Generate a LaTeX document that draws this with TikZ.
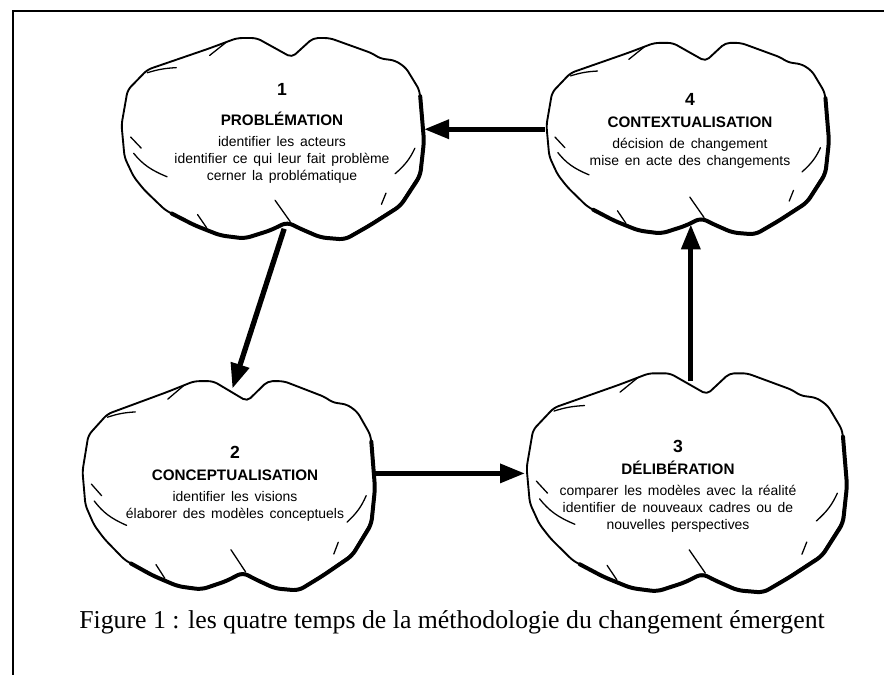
\documentclass[tikz,border=0pt]{standalone}
\usepackage{fontspec}
\setmainfont[WordSpace=1.5]{Liberation Sans}
\newfontfamily\capfont{Liberation Serif}
\usetikzlibrary{arrows.meta,calc}

\tikzset{
  stage/.style={align=center, inner sep=0pt, font=\fontsize{11.9}{14.5}\selectfont},
  flow/.style={line width=4.5pt, -{Triangle[length=0.75cm,width=0.55cm]}},
  rim/.style={line width=1.6pt, line join=round, rounded corners=4pt},
  shade/.style={line width=3.4pt, line cap=round, line join=round, rounded corners=5pt},
  tick/.style={line width=1.1pt, line cap=round},
  frame/.style={line width=0.9pt},
}
\newcommand\numf{\fontsize{15}{14.5}\selectfont\bfseries}
\newcommand\titf{\fontsize{13}{14.5}\selectfont\bfseries}

% cloud outline: name, centre x, centre y, half width, half height (px)
\newcommand\cloudat[5]{%
  \begin{scope}[shift={(#2,#3)}, xscale=#4, yscale=#5]
    \draw[rim] (-0.99,-0.12) -- (-0.95,-0.46) -- (-0.82,-0.66) -- (-0.41,-0.87)
      -- (-0.23,-0.97) -- (-0.10,-0.97) -- (0.13,-0.78) -- (0.27,-0.97)
      -- (0.38,-0.97) -- (0.66,-0.82) -- (0.71,-0.77) -- (0.81,-0.75)
      -- (0.88,-0.68) -- (0.97,-0.46) -- (1.0,0.03) -- (0.97,0.37)
      -- (0.84,0.67) -- (0.64,0.86) -- (0.48,1.0) -- (0.32,0.98)
      -- (0.18,0.89) -- (0.10,0.83) -- (-0.01,0.91) -- (-0.18,0.99)
      -- (-0.34,0.96) -- (-0.51,0.86) -- (-0.70,0.72) -- (-0.84,0.52)
      -- (-0.91,0.39) -- (-0.97,0.2) -- cycle;
    \draw[shade] (0.975,-0.40) -- (1.0,0.04) -- (0.975,0.38) -- (0.845,0.675)
      -- (0.645,0.865) -- (0.48,1.005) -- (0.32,0.985) -- (0.18,0.895)
      -- (0.10,0.835) -- (-0.01,0.915) -- (-0.18,0.995) -- (-0.34,0.965)
      -- (-0.51,0.865) -- (-0.66,0.75);
    \draw[tick] (-0.41,-0.80) -- (-0.30,-0.93);
    \draw[tick] (-0.82,-0.63) to[bend left=10] (-0.63,-0.68);
    \draw[tick] (-0.93,0.0) -- (-0.86,0.11);
    \draw[tick] (-0.91,0.16) to[bend right=15] (-0.69,0.39);
    \draw[tick] (-0.49,0.76) -- (-0.43,0.89);
    \draw[tick] (0.02,0.62) -- (0.12,0.83);
    \draw[tick] (0.94,0.11) to[bend left=10] (0.81,0.36);
    \draw[tick] (0.75,0.55) -- (0.72,0.66);
    \coordinate (#1-n) at (0.03,-0.9);
    \coordinate (#1-s) at (0.08,0.9);
    \coordinate (#1-e) at (1.0,-0.1);
    \coordinate (#1-w) at (-1.0,-0.08);
  \end{scope}}

\begin{document}
\begin{tikzpicture}[x=0.03cm, y=-0.03cm]
  \useasboundingbox (0,0) rectangle (884,675);
  \draw[frame] (13,675) -- (13,11) -- (884,11);

  \cloudat{k1}{272}{137}{152}{102}
  \cloudat{k4}{687}{137}{142}{97}
  \cloudat{k2}{228}{484}{147}{106}
  \cloudat{k3}{686}{481}{161}{111}

  \node[stage] (c1) at (282,133) {{\numf 1}\\[11pt]{\titf PROBLÉMATION}\\[3.4pt]
    identifier les acteurs\\identifier ce qui leur fait problème\\cerner la problématique};
  \node[stage] (c4) at (690,131) {{\numf 4}\\[4.5pt]{\titf CONTEXTUALISATION}\\[3.4pt]
    décision de changement\\mise en acte des changements};
  \node[stage] (c2) at (235,484) {{\numf 2}\\[4.5pt]{\titf CONCEPTUALISATION}\\[3.4pt]
    identifier les visions\\élaborer des modèles conceptuels};
  \node[stage] (c3) at (678,486) {{\numf 3}\\[4.5pt]{\titf DÉLIBÉRATION}\\[3.4pt]
    comparer les modèles avec la réalité\\identifier de nouveaux cadres ou de\\nouvelles perspectives};

  \draw[flow] (k4-w) -- (k4-w -| k1-e);
  \draw[flow] (k1-s) -- (k2-n);
  \draw[flow] (k2-e) -- (k2-e -| k3-w);
  \draw[flow] (k3-n) -- (k3-n |- k4-s);

  \node[font=\capfont\fontsize{22}{26}\selectfont] (cap) at (452,622)
    {Figure 1 : les quatre temps de la méthodologie du changement émergent};
\end{tikzpicture}
\end{document}
